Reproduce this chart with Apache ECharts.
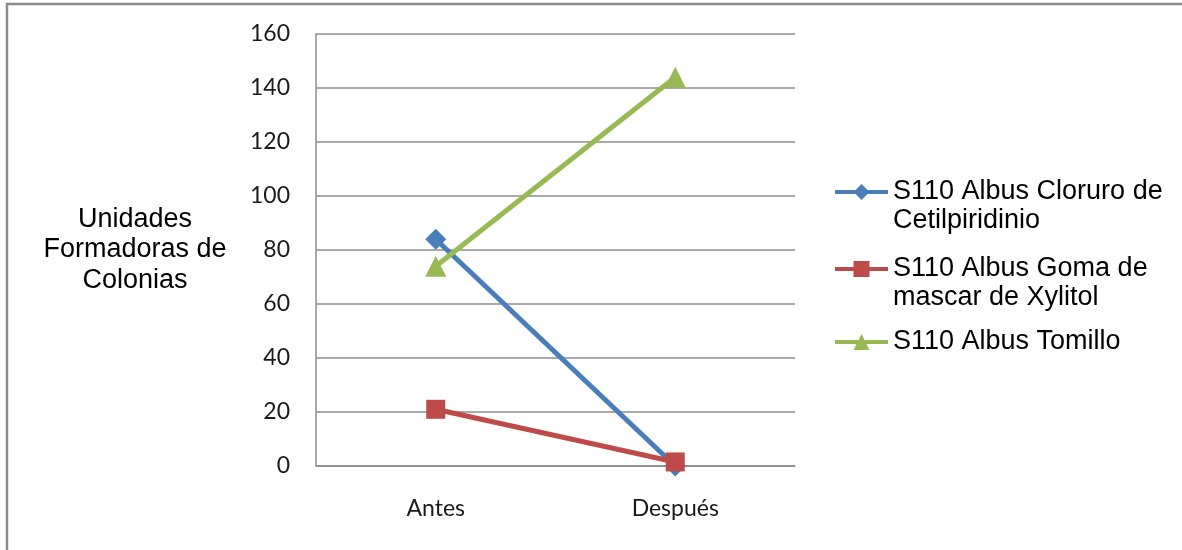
<!DOCTYPE html>
<html>
<head>
<meta charset="utf-8">
<script src="https://cdn.jsdelivr.net/npm/echarts@6/dist/echarts.min.js"></script>
<style>
  html, body { margin: 0; padding: 0; background: #ffffff; }
  #chart { width: 1182px; height: 550px; }
</style>
</head>
<body>
<div id="chart"></div>
<script>
// Categories and tick values
const categories = ['Antes', 'Después'];
const yTicks = { min: 0, max: 160, interval: 20 };

// Series names (a '\n' marks where the legend text wraps)
const seriesNames = [
  'S110 Albus Cloruro de\nCetilpiridinio',
  'S110 Albus Goma de\nmascar de Xylitol',
  'S110 Albus Tomillo'
];

// Colony counts per series
const cloruroValues = [84, 0];
const gomaValues = [21, 1.5];
const tomilloValues = [74, 144];

const colors = ['#4A7EBB', '#BE4B48', '#98B954'];
const symbols = ['diamond', 'rect', 'triangle'];
const symbolSizes = [21, 19, 21];
const valueSets = [cloruroValues, gomaValues, tomilloValues];

const chart = echarts.init(document.getElementById('chart'), null, { renderer: 'canvas' });

const textFont = '"Liberation Sans", Arial, sans-serif';
const legendFontSize = 27;
const legendLineHeight = 29;

// Legend layout: icon column, text column and the centre of each entry's first line
const legendLeft = 833;
const legendIconWidth = 53;
const legendTextX = 893;
const legendRowY = [192, 269, 342];

// One legend block per series; the icon sits beside the first text line
const legends = seriesNames.map((name, i) => ({
  orient: 'vertical',
  left: legendLeft,
  top: legendRowY[i] - legendLineHeight / 2,
  padding: 0,
  itemWidth: legendIconWidth,
  itemHeight: 20,
  selectedMode: false,
  data: [name],
  formatter: (n) => n.split('\n')[0],
  lineStyle: { width: 4 },
  textStyle: {
    fontFamily: textFont,
    fontSize: legendFontSize,
    lineHeight: legendLineHeight,
    color: '#000000'
  }
}));

// Continuation lines of wrapped legend entries
const legendContinuations = [];
seriesNames.forEach((name, i) => {
  const parts = name.split('\n');
  parts.slice(1).forEach((part, k) => {
    legendContinuations.push({
      type: 'text',
      left: legendTextX,
      top: legendRowY[i] + (k + 1) * legendLineHeight - legendLineHeight / 2,
      silent: true,
      style: {
        text: part,
        fontFamily: textFont,
        fontSize: legendFontSize,
        lineHeight: legendLineHeight,
        fill: '#000000'
      }
    });
  });
});

const option = {
  backgroundColor: '#ffffff',
  animation: false,
  color: colors,
  graphic: [{
    type: 'rect',
    shape: { x: 7, y: 4, width: 1400, height: 800 },
    style: { fill: 'none', stroke: '#8a8a8a', lineWidth: 2.5 },
    silent: true
  }].concat(legendContinuations),
  legend: legends,
  grid: { left: 316, right: 387, top: 34, bottom: 84, containLabel: false },
  xAxis: {
    type: 'category',
    data: categories,
    boundaryGap: true,
    axisLine: { show: true, lineStyle: { color: '#8c8c8c', width: 1.5 } },
    axisTick: { show: false },
    axisLabel: {
      margin: 31,
      color: '#1a1a1a',
      fontFamily: 'Lato, "Open Sans", sans-serif',
      fontSize: 23
    },
    splitLine: { show: false }
  },
  yAxis: {
    type: 'value',
    min: yTicks.min,
    max: yTicks.max,
    interval: yTicks.interval,
    name: 'Unidades\nFormadoras de\nColonias',
    nameLocation: 'middle',
    nameRotate: 0,
    nameGap: 181,
    nameTextStyle: {
      align: 'center',
      verticalAlign: 'middle',
      fontFamily: textFont,
      fontSize: 27,
      lineHeight: 30.5,
      color: '#000000',
      padding: [4, 0, 0, 0]
    },
    axisLine: { show: true, lineStyle: { color: '#8c8c8c', width: 1.5 } },
    axisTick: { show: false },
    axisLabel: {
      margin: 26,
      color: '#1a1a1a',
      fontFamily: 'Lato, "Open Sans", sans-serif',
      fontSize: 23
    },
    splitLine: { show: true, lineStyle: { color: '#8c8c8c', width: 1.5 } }
  },
  series: seriesNames.map((name, i) => ({
    name: name,
    type: 'line',
    data: valueSets[i],
    symbol: symbols[i],
    symbolSize: symbolSizes[i],
    showSymbol: true,
    lineStyle: { color: colors[i], width: 5 },
    itemStyle: { color: colors[i] },
    z: 2 + i
  }))
};

chart.setOption(option);
</script>
</body>
</html>
